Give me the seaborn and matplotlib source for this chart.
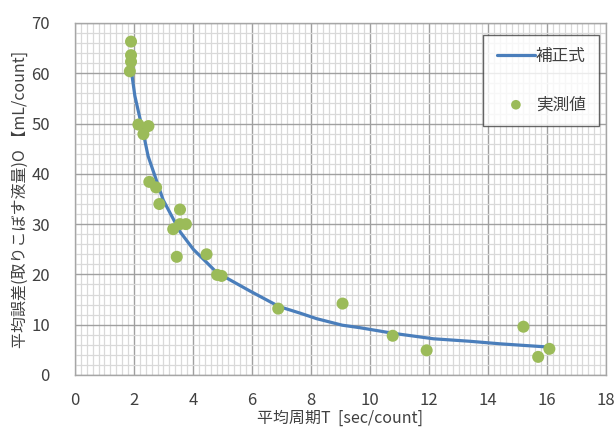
import matplotlib
matplotlib.use("Agg")
import matplotlib.pyplot as plt
from matplotlib.ticker import MultipleLocator
import seaborn as sns
import pandas as pd

# Measured values: mean period T [sec/count] vs. mean error Q [mL/count]
T_meas = [1.90, 1.90, 1.90, 1.86, 2.15, 2.49, 2.32, 2.52, 2.75, 2.86, 3.56, 3.33,
          3.56, 3.76, 3.45, 4.46, 4.82, 4.97, 6.89, 9.07, 10.77, 11.92, 15.20,
          15.70, 16.08]
Q_meas = [66.3, 63.6, 62.3, 60.4, 49.8, 49.5, 47.9, 38.4, 37.3, 34.0, 32.9, 29.0,
          30.0, 30.0, 23.5, 24.0, 19.9, 19.7, 13.2, 14.2, 7.8, 4.9, 9.6,
          3.6, 5.2]

# Correction curve
T_fit = [1.92, 2.03, 2.32, 2.48, 2.99, 3.56, 4.01, 4.46, 4.80, 5.93, 6.92, 7.63,
         8.19, 9.06, 9.66, 10.77, 12.15, 13.39, 14.40, 15.93]
Q_fit = [60.1, 55.5, 48.0, 43.5, 34.8, 28.5, 25.0, 22.4, 20.4, 16.7, 13.6, 12.3,
         11.2, 9.9, 9.4, 8.3, 7.2, 6.7, 6.2, 5.6]

x_ticks = [0, 2, 4, 6, 8, 10, 12, 14, 16, 18]
y_ticks = [0, 10, 20, 30, 40, 50, 60, 70]

LABEL_FIT = "補正式"
LABEL_MEAS = "実測値"
X_LABEL = "平均周期T  [sec/count]"
Y_LABEL = "平均誤差(取りこぼす液量)O 【mL/count]"

sns.set_theme(style="white")
plt.rcParams["font.family"] = ["Noto Sans CJK JP", "DejaVu Sans"]

fig = plt.figure(figsize=(6.14, 4.33), dpi=100)
ax = fig.add_axes([0.1221, 0.134, 0.8649, 0.8129])

df_fit = pd.DataFrame({"T": T_fit, "Q": Q_fit})
df_meas = pd.DataFrame({"T": T_meas, "Q": Q_meas})

sns.lineplot(data=df_fit, x="T", y="Q", ax=ax, color="#4a7ebb", linewidth=2.3,
             sort=False, label=LABEL_FIT, zorder=3)
sns.scatterplot(data=df_meas, x="T", y="Q", ax=ax, color="#9bbb59", s=75,
                edgecolor="none", label=LABEL_MEAS, zorder=4)

ax.set_xlim(x_ticks[0], x_ticks[-1])
ax.set_ylim(y_ticks[0], y_ticks[-1])
ax.set_xticks(x_ticks)
ax.set_yticks(y_ticks)
ax.xaxis.set_minor_locator(MultipleLocator(0.2))
ax.yaxis.set_minor_locator(MultipleLocator(2))

ax.grid(which="major", color="#a0a0a0", linewidth=1.0, zorder=1)
ax.grid(which="minor", color="#d9d9d9", linewidth=0.9, zorder=0)
ax.set_axisbelow(True)
for s in ax.spines.values():
    s.set_color("#a6a6a6")
    s.set_linewidth(1.0)

ax.tick_params(axis="both", which="both", length=0, labelsize=12, colors="#404040")
ax.tick_params(axis="x", pad=12)
ax.tick_params(axis="y", pad=18)

ax.set_xlabel(X_LABEL, fontsize=11.5, color="#404040", labelpad=1)
ax.set_ylabel(Y_LABEL, fontsize=11.5, color="#404040", labelpad=2)

leg = ax.legend(loc="upper right", bbox_to_anchor=(0.987, 0.966), fontsize=12,
                frameon=True, fancybox=False, edgecolor="#404040",
                labelspacing=1.85, handlelength=2.3, handletextpad=0.05,
                borderpad=0.8, borderaxespad=0, markerscale=0.8)
leg.get_frame().set_linewidth(1.0)
for t in leg.get_texts():
    t.set_color("#404040")

fig.savefig("out.png", dpi=100)
